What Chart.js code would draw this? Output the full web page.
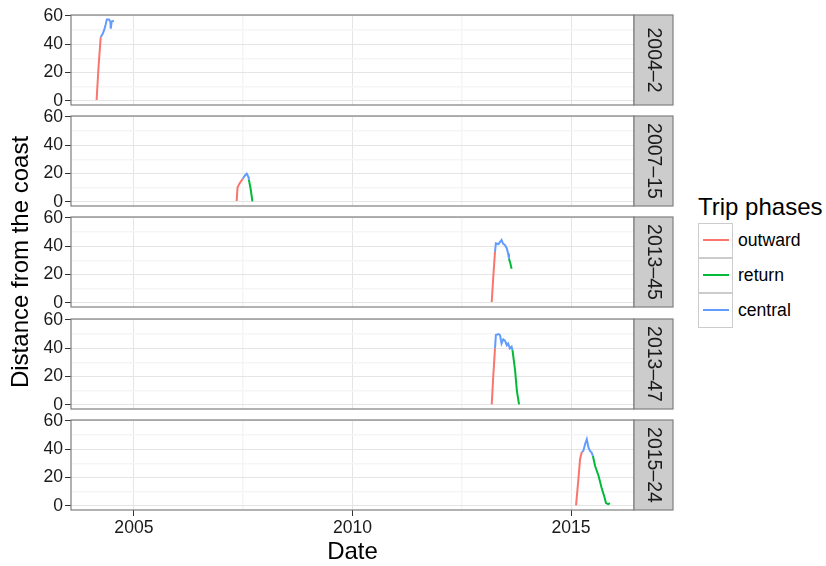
<!DOCTYPE html>
<html>
<head>
<meta charset="utf-8">
<script src="https://cdn.jsdelivr.net/npm/chart.js@4/dist/chart.umd.min.js"></script>
<style>
  body { margin: 0; background: #fff; font-family: "Liberation Sans", Arial, sans-serif; }
  #wrap { position: relative; width: 826px; height: 566px; }
  #wrap canvas { position: absolute; left: 0; top: 0; }
  .leg-title { position: absolute; left: 698px; top: 193px; font-size: 24px; line-height: 28px; color: #000; }
  .leg-row { position: absolute; left: 698px; width: 130px; height: 35px; }
  .leg-key { position: absolute; left: 0; top: 0; width: 33px; height: 33px; border: 1px solid #cccccc; background: #fff; }
  .leg-key span { position: absolute; left: 4px; top: 15px; width: 26px; height: 2px; }
  .leg-lab { position: absolute; left: 40px; top: 0; line-height: 35px; font-size: 17.6px; color: #000; }
</style>
</head>
<body>
<div id="wrap">
  <div class="leg-title">Trip phases</div>
  <div id="legend"></div>
</div>
<script>
// facettes (trajets) et phases
const trips = ['2004–2', '2007–15', '2013–45', '2013–47', '2015–24'];
const phases = ['outward', 'return', 'central'];
const phaseColors = ['#F8766D', '#00BA38', '#619CFF'];

// axes
const xMajor = [2005, 2010, 2015];
const xMinor = [2007.5, 2012.5];
const yMajor = [0, 20, 40, 60];
const yMinor = [10, 30, 50];

// 2004-2
const out1Date = [2004.146, 2004.19, 2004.24];
const out1Dist = [0.5, 24, 45];
const ret1Date = [];
const ret1Dist = [];
const cen1Date = [2004.24, 2004.28, 2004.32, 2004.35, 2004.38, 2004.43, 2004.46, 2004.47, 2004.49, 2004.54];
const cen1Dist = [45, 47, 50, 53.5, 57.5, 57.5, 56, 51, 56, 56.5];

// 2007-15
const out2Date = [2007.35, 2007.37, 2007.41, 2007.46, 2007.49];
const out2Dist = [0.5, 10, 12.6, 15, 16.2];
const ret2Date = [2007.63, 2007.67, 2007.71];
const ret2Dist = [15.5, 9, 0.3];
const cen2Date = [2007.49, 2007.54, 2007.58, 2007.62, 2007.63];
const cen2Dist = [16.2, 18.6, 19.8, 17.4, 15.5];

// 2013-45
const out3Date = [2013.185, 2013.22, 2013.26];
const out3Dist = [0.5, 18, 36];
const ret3Date = [2013.58, 2013.61, 2013.64];
const ret3Dist = [31.2, 28, 24];
const cen3Date = [2013.26, 2013.28, 2013.34, 2013.375, 2013.41, 2013.44, 2013.49, 2013.53, 2013.56, 2013.58];
const cen3Dist = [36, 42, 41.4, 43, 44.3, 41.9, 40.7, 38.4, 34.8, 31.2];

// 2013-47
const out4Date = [2013.185, 2013.22, 2013.26];
const out4Dist = [0.3, 20, 39.8];
const ret4Date = [2013.66, 2013.72, 2013.76, 2013.81];
const ret4Dist = [38.6, 24.3, 10, 0.3];
const cen4Date = [2013.26, 2013.28, 2013.34, 2013.375, 2013.41, 2013.45, 2013.49, 2013.53, 2013.56, 2013.60, 2013.64, 2013.66];
const cen4Dist = [39.8, 49.3, 50, 49.3, 43.3, 46.2, 45.2, 42.1, 43.3, 39.8, 41, 38.6];

// 2015-24
const out5Date = [2015.114, 2015.16, 2015.206, 2015.245];
const out5Dist = [0.3, 16, 32.9, 38];
const ret5Date = [2015.50, 2015.55, 2015.63, 2015.70, 2015.76, 2015.80, 2015.85, 2015.89];
const ret5Dist = [35.2, 28.1, 21, 12.6, 6.6, 1.9, 1.2, 1.9];
const cen5Date = [2015.245, 2015.28, 2015.32, 2015.36, 2015.40, 2015.435, 2015.47, 2015.50];
const cen5Dist = [38, 38.7, 43.5, 47, 41, 38.7, 37.6, 35.2];

const tripData = [
    [[out1Date, out1Dist], [ret1Date, ret1Dist], [cen1Date, cen1Dist]],
    [[out2Date, out2Dist], [ret2Date, ret2Dist], [cen2Date, cen2Dist]],
    [[out3Date, out3Dist], [ret3Date, ret3Dist], [cen3Date, cen3Dist]],
    [[out4Date, out4Dist], [ret4Date, ret4Dist], [cen4Date, cen4Dist]],
    [[out5Date, out5Dist], [ret5Date, ret5Dist], [cen5Date, cen5Dist]]
];

const W = 826, H = 566;
const panelTops = [15, 116, 217, 319, 420];
const panelH = 90;
const FONT = '"Liberation Sans", Arial, sans-serif';

// cadre du panneau + bandeau gris à droite
const panelDeco = {
    id: 'panelDeco',
    afterDatasetsDraw(chart, args, opts) {
        const a = chart.chartArea;
        const c = chart.ctx;
        c.save();
        c.strokeStyle = '#7f7f7f';
        c.lineWidth = 1.2;
        c.strokeRect(a.left, a.top, a.right - a.left, a.bottom - a.top);
        c.fillStyle = '#cccccc';
        c.fillRect(a.right, a.top, 39, a.bottom - a.top);
        c.strokeRect(a.right, a.top, 39, a.bottom - a.top);
        c.translate(a.right + 19.5, (a.top + a.bottom) / 2);
        c.rotate(Math.PI / 2);
        c.fillStyle = '#1a1a1a';
        c.font = '19.5px ' + FONT;
        c.textAlign = 'center';
        c.textBaseline = 'middle';
        c.fillText(opts.label, 0, 0);
        c.restore();
    }
};

function makePanel(i) {
    const isLast = i === trips.length - 1;
    const canvas = document.createElement('canvas');
    document.getElementById('wrap').appendChild(canvas);
    canvas.width = W; canvas.height = H;
    canvas.style.width = W + 'px'; canvas.style.height = H + 'px';

    const datasets = phases.map((p, k) => ({
        label: p,
        data: tripData[i][k][0].map((d, j) => ({ x: d, y: tripData[i][k][1][j] })),
        borderColor: phaseColors[k],
        borderWidth: 2,
        pointRadius: 0,
        fill: false,
        tension: 0
    }));

    new Chart(canvas.getContext('2d'), {
        type: 'line',
        data: { datasets: datasets },
        plugins: [panelDeco],
        options: {
            responsive: false,
            animation: false,
            events: [],
            layout: {
                padding: { top: panelTops[i], right: W - 634, left: 0, bottom: isLast ? 0 : H - panelTops[i] - panelH }
            },
            plugins: {
                legend: { display: false },
                tooltip: { enabled: false },
                panelDeco: { label: trips[i] }
            },
            scales: {
                x: {
                    type: 'linear',
                    min: 2003.56,
                    max: 2016.44,
                    afterBuildTicks: s => { s.ticks = xMajor.concat(xMinor).map(v => ({ value: v })); },
                    afterFit: s => { s.height = isLast ? H - 510 : 0; },
                    border: { display: false },
                    grid: {
                        color: ctx => xMajor.includes(ctx.tick.value) ? '#e5e5e5' : '#f5f5f5',
                        lineWidth: ctx => xMajor.includes(ctx.tick.value) ? 1 : 1.5,
                        drawTicks: isLast,
                        tickLength: 6,
                        tickColor: ctx => xMajor.includes(ctx.tick.value) ? '#333333' : 'rgba(0,0,0,0)'
                    },
                    ticks: {
                        display: isLast,
                        autoSkip: false,
                        maxRotation: 0,
                        padding: 2,
                        color: '#1a1a1a',
                        font: { size: 17.6, family: FONT },
                        callback: v => xMajor.includes(v) ? String(v) : ''
                    },
                    title: {
                        display: isLast,
                        text: 'Date',
                        color: '#000',
                        font: { size: 24, family: FONT },
                        padding: { top: 0, bottom: -1 }
                    }
                },
                y: {
                    min: -3,
                    max: 60.6,
                    afterBuildTicks: s => { s.ticks = yMajor.concat(yMinor).map(v => ({ value: v })); },
                    afterFit: s => { s.width = 71; },
                    border: { display: false },
                    grid: {
                        color: ctx => yMajor.includes(ctx.tick.value) ? '#e5e5e5' : '#f5f5f5',
                        lineWidth: ctx => yMajor.includes(ctx.tick.value) ? 1 : 1.5,
                        tickLength: 6,
                        tickColor: ctx => yMajor.includes(ctx.tick.value) ? '#333333' : 'rgba(0,0,0,0)'
                    },
                    ticks: {
                        autoSkip: false,
                        padding: 2,
                        color: '#1a1a1a',
                        font: { size: 17.6, family: FONT },
                        callback: v => yMajor.includes(v) ? String(v) : ''
                    },
                    title: {
                        display: i === 2,
                        text: 'Distance from the coast',
                        color: '#000',
                        font: { size: 24, family: FONT },
                        padding: { top: 7, bottom: 0 }
                    }
                }
            }
        }
    });
}

trips.forEach((t, i) => makePanel(i));

// légende
const legend = document.getElementById('legend');
const legendTops = [223, 258, 293];
phases.forEach((p, k) => {
    const row = document.createElement('div');
    row.className = 'leg-row';
    row.style.top = legendTops[k] + 'px';
    row.innerHTML = '<div class="leg-key"><span style="background:' + phaseColors[k] + '"></span></div>' +
        '<div class="leg-lab">' + p + '</div>';
    legend.appendChild(row);
});
</script>
</body>
</html>
